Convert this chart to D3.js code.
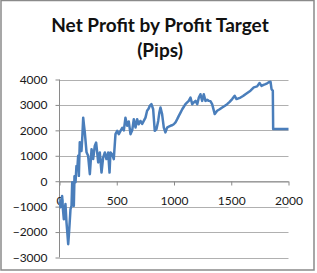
<!DOCTYPE html>
<html>
<head>
<meta charset="utf-8">
<script src="https://cdn.jsdelivr.net/npm/d3@7"></script>
<style>
  html, body { margin: 0; padding: 0; background: #fff; }
  svg text { font-family: Lato, "Open Sans", sans-serif; }
</style>
</head>
<body>
<div id="chart"></div>
<script>
var title = ['Net Profit by Profit Target', '(Pips)'];

// profit target (pips)
var pips = [
  0, 9, 15, 23, 30, 38, 45, 52, 61, 68,
  76, 82, 87, 96, 105, 111, 118, 125, 131, 140,
  148, 155, 163, 169, 177, 184, 192, 200, 207, 214,
  221, 236, 250, 265, 280, 294, 308, 320, 338, 352,
  367, 381, 396, 410, 425, 437, 445, 460, 474, 489,
  504, 518, 533, 548, 562, 576, 591, 605, 620, 635,
  649, 664, 678, 692, 707, 722, 736, 751, 765, 778,
  788, 803, 818, 832, 847, 862, 872, 882, 896, 911,
  925, 940, 955, 969, 984, 998, 1013, 1028, 1042, 1057,
  1072, 1086, 1100, 1115, 1129, 1144, 1159, 1173, 1188, 1203,
  1217, 1231, 1246, 1260, 1275, 1290, 1304, 1318, 1333, 1356,
  1377, 1399, 1421, 1442, 1464, 1486, 1508, 1530, 1546, 1563,
  1581, 1603, 1624, 1646, 1668, 1697, 1726, 1747, 1764, 1782,
  1799, 1814, 1828, 1843, 1852, 1863, 1866, 2000
];

// net profit
var netProfit = [
  -800, -1020, -750, -580, -1100, -1500, -1150, -900, -1620, -2000,
  -2480, -2100, -1760, -1100, -970, -40, -600, -970, 200, -40,
  600, 450, 1000, 210, 1530, 1300, 1190, 1800, 2500, 2200,
  1920, 1140, 1000, 275, 1260, 870, 1390, 1520, 740, 1130,
  340, 930, 1130, 870, 1130, 340, 1130, 1060, 870, 1850,
  1980, 1850, 1980, 2100, 2000, 2500, 2180, 2350, 1850, 2000,
  2440, 2110, 2440, 2240, 2370, 2250, 2370, 2500, 2770, 2850,
  2960, 3030, 2830, 1980, 2050, 2370, 2700, 2900, 2640, 2110,
  1920, 2110, 2150, 2180, 2200, 2240, 2310, 2440, 2570, 2700,
  2830, 2930, 3030, 3100, 3160, 3290, 3030, 3100, 3160, 3030,
  3290, 3420, 3160, 3420, 3160, 3200, 3160, 3150, 3030, 2640,
  2770, 2830, 2900, 2960, 3030, 3120, 3230, 3360, 3230, 3260,
  3290, 3350, 3420, 3490, 3560, 3690, 3730, 3860, 3750, 3790,
  3820, 3850, 3890, 3910, 3620, 3560, 2050, 2050
];

var xTicks = [0, 500, 1000, 1500, 2000];
var yTicks = [-3000, -2000, -1000, 0, 1000, 2000, 3000, 4000];

var width = 317, height = 273;
var plot = { left: 59.5, right: 288.5, top: 79.5, bottom: 257.5 };

var svg = d3.select('#chart').append('svg')
  .attr('width', width)
  .attr('height', height);

svg.append('rect')
  .attr('x', 1).attr('y', 0.5)
  .attr('width', 313).attr('height', 269.5)
  .attr('fill', '#fff')
  .attr('stroke', '#8a8a8a')
  .attr('stroke-width', 1.5);

var xScale = d3.scaleLinear().domain([0, 2000]).range([plot.left, plot.right]);
var yScale = d3.scaleLinear().domain([-3000, 4000]).range([plot.bottom, plot.top]);

// gridlines
svg.append('g')
  .selectAll('line')
  .data(yTicks)
  .enter().append('line')
  .attr('x1', plot.left).attr('x2', plot.right)
  .attr('y1', function(d) { return Math.round(yScale(d)) + 0.5; })
  .attr('y2', function(d) { return Math.round(yScale(d)) + 0.5; })
  .attr('stroke', '#b0b0b0');

// y axis
var yAxis = svg.append('g')
  .attr('transform', 'translate(' + plot.left + ',0)')
  .call(d3.axisLeft(yScale).tickValues(yTicks).tickSize(4).tickPadding(8).tickFormat(d3.format('d')));

// x axis sits on zero
var x0 = Math.round(yScale(0)) + 0.5;
var xAxis = svg.append('g')
  .attr('transform', 'translate(0,' + x0 + ')')
  .call(d3.axisBottom(xScale).tickValues(xTicks).tickSize(4).tickPadding(11).tickSizeOuter(0).tickFormat(d3.format('d')));

[yAxis, xAxis].forEach(function(ax) {
  ax.select('.domain').attr('stroke', '#8a8a8a');
  ax.selectAll('.tick line').attr('stroke', '#8a8a8a');
  ax.selectAll('text').attr('fill', '#1a1a1a').style('font-size', '12px');
});
yAxis.select('.domain').attr('d', 'M0,' + plot.top + 'V' + plot.bottom);

var line = d3.line()
  .x(function(d, i) { return xScale(pips[i]); })
  .y(function(d) { return yScale(d); });

svg.append('path')
  .datum(netProfit)
  .attr('d', line)
  .attr('fill', 'none')
  .attr('stroke', '#4a7ebb')
  .attr('stroke-width', 2.5)
  .attr('stroke-linejoin', 'round');

svg.append('g')
  .selectAll('text')
  .data(title)
  .enter().append('text')
  .attr('x', 160)
  .attr('y', function(d, i) { return 32 + i * 25; })
  .attr('text-anchor', 'middle')
  .style('font-size', '19px')
  .style('font-weight', 'bold')
  .attr('fill', '#111')
  .text(function(d) { return d; });
</script>
</body>
</html>
